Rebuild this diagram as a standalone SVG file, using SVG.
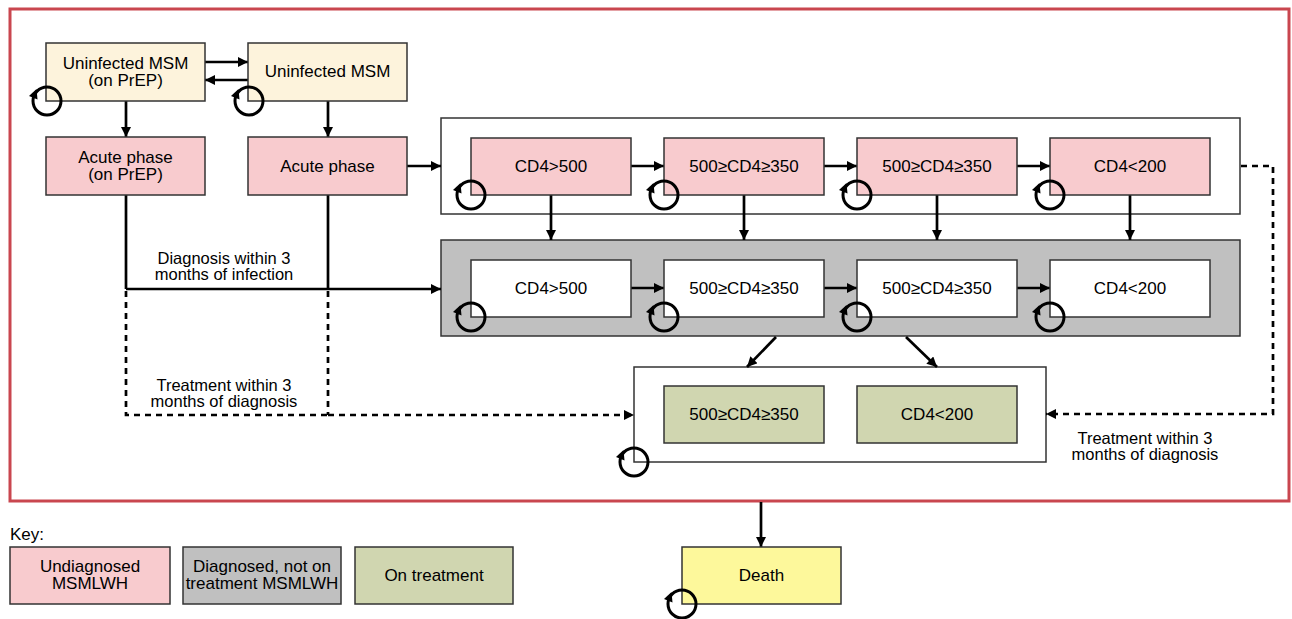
<svg xmlns="http://www.w3.org/2000/svg" width="1292" height="619" viewBox="0 0 1292 619">
  <style>
    text { font-family: "Liberation Sans", Arial, sans-serif; font-size: 17px; fill: #000; text-anchor: middle; dominant-baseline: central; }
    .lbl { font-size: 16.5px; }
    .box { stroke: #333; stroke-width: 1.5; }
    .cream { fill: #fdf3dc; }
    .pink { fill: #f8cbce; }
    .white { fill: #fff; }
    .grey { fill: #c0c0c0; }
    .green { fill: #d0d6b0; }
    .yellow { fill: #fdf89b; }
    .edge { fill: none; stroke: #000; stroke-width: 2.7; }
    .dash { stroke-dasharray: 6 5; }
    .arrow { marker-end: url(#ah); }
  </style>
  <defs>
    <marker id="ah" markerWidth="10" markerHeight="10" refX="10" refY="5" orient="auto" markerUnits="userSpaceOnUse">
      <path d="M0,0 L10,5 L0,10 z" fill="#000"/>
    </marker>
    <!-- self-transition loop, centred on a box corner -->
    <g id="loop">
      <circle r="14" fill="none" stroke="#000" stroke-width="3"/>
      <path d="M-10.5,-12 L-9.5,-1.5 L-18,-5 z" fill="#000"/>
    </g>
  </defs>

  <rect width="1292" height="619" fill="#fff"/>
  <!-- outer frame for the living population -->
  <rect x="10" y="9" width="1279" height="492" fill="none" stroke="#c9464f" stroke-width="3"/>

  <!-- containers -->
  <g id="undiagnosed-group"><rect class="box white" x="441" y="118" width="799" height="96"/></g>
  <g id="diagnosed-group"><rect class="box grey" x="441" y="240" width="799" height="96"/></g>
  <g id="treatment-group"><rect class="box white" x="634" y="367" width="412" height="95"/></g>

  <g id="connectors">
    <path class="edge arrow" d="M205,62 H248"/>
    <path class="edge arrow" d="M248,80 H205"/>
    <path class="edge arrow" d="M126,101 V137"/>
    <path class="edge arrow" d="M328,101 V137"/>
    <path class="edge arrow" d="M407,166 H441"/>
    <!-- undiagnosed progression -->
    <path class="edge arrow" d="M631,166 H664"/>
    <path class="edge arrow" d="M824,166 H857"/>
    <path class="edge arrow" d="M1017,166 H1050"/>
    <!-- diagnosis -->
    <path class="edge arrow" d="M551,195 V240"/>
    <path class="edge arrow" d="M744,195 V240"/>
    <path class="edge arrow" d="M937,195 V240"/>
    <path class="edge arrow" d="M1130,195 V240"/>
    <!-- diagnosed progression -->
    <path class="edge arrow" d="M631,288 H664"/>
    <path class="edge arrow" d="M824,288 H857"/>
    <path class="edge arrow" d="M1017,288 H1050"/>
    <!-- early diagnosis from acute phases -->
    <path class="edge" d="M126,195 V289"/>
    <path class="edge" d="M328,195 V289"/>
    <path class="edge arrow" d="M126,289 H441"/>
    <!-- early treatment -->
    <path class="edge dash" d="M126,291 V415 H328"/>
    <path class="edge dash" d="M328,291 V415"/>
    <path class="edge dash arrow" d="M328,415 H634"/>
    <path class="edge dash arrow" d="M1241,166 H1273 V414 H1046"/>
    <!-- treatment initiation -->
    <path class="edge arrow" d="M776,337 L747,367"/>
    <path class="edge arrow" d="M906,337 L937,367"/>
    <!-- mortality -->
    <path class="edge arrow" d="M761,502 V547"/>
  </g>

  <g id="uninfected-prep">
    <rect class="box cream" x="46" y="43" width="159" height="58"/>
    <text x="125.5" y="63">Uninfected MSM</text>
    <text x="125.5" y="80">(on PrEP)</text>
    <use href="#loop" x="47" y="101"/>
  </g>
  <g id="uninfected">
    <rect class="box cream" x="248" y="43" width="159" height="58"/>
    <text x="327.5" y="71">Uninfected MSM</text>
    <use href="#loop" x="249" y="101"/>
  </g>
  <g id="acute-prep">
    <rect class="box pink" x="46" y="137" width="159" height="58"/>
    <text x="125.5" y="157">Acute phase</text>
    <text x="125.5" y="174">(on PrEP)</text>
  </g>
  <g id="acute">
    <rect class="box pink" x="248" y="137" width="159" height="58"/>
    <text x="327.5" y="166">Acute phase</text>
  </g>

  <g id="undiag-cd4-500">
    <rect class="box pink" x="471" y="138" width="160" height="57"/>
    <text x="551" y="166">CD4&gt;500</text>
    <use href="#loop" x="471" y="195"/>
  </g>
  <g id="undiag-cd4-350-500">
    <rect class="box pink" x="664" y="138" width="160" height="57"/>
    <text x="744" y="166">500≥CD4≥350</text>
    <use href="#loop" x="664" y="195"/>
  </g>
  <g id="undiag-cd4-200-350">
    <rect class="box pink" x="857" y="138" width="160" height="57"/>
    <text x="937" y="166">500≥CD4≥350</text>
    <use href="#loop" x="857" y="195"/>
  </g>
  <g id="undiag-cd4-200">
    <rect class="box pink" x="1050" y="138" width="160" height="57"/>
    <text x="1130" y="166">CD4&lt;200</text>
    <use href="#loop" x="1050" y="195"/>
  </g>

  <g id="diag-cd4-500">
    <rect class="box white" x="471" y="260" width="160" height="57"/>
    <text x="551" y="288">CD4&gt;500</text>
    <use href="#loop" x="471" y="317"/>
  </g>
  <g id="diag-cd4-350-500">
    <rect class="box white" x="664" y="260" width="160" height="57"/>
    <text x="744" y="288">500≥CD4≥350</text>
    <use href="#loop" x="664" y="317"/>
  </g>
  <g id="diag-cd4-200-350">
    <rect class="box white" x="857" y="260" width="160" height="57"/>
    <text x="937" y="288">500≥CD4≥350</text>
    <use href="#loop" x="857" y="317"/>
  </g>
  <g id="diag-cd4-200">
    <rect class="box white" x="1050" y="260" width="160" height="57"/>
    <text x="1130" y="288">CD4&lt;200</text>
    <use href="#loop" x="1050" y="317"/>
  </g>

  <g id="treat-cd4-350-500">
    <rect class="box green" x="664" y="386" width="160" height="57"/>
    <text x="744" y="414">500≥CD4≥350</text>
  </g>
  <g id="treat-cd4-200">
    <rect class="box green" x="857" y="386" width="160" height="57"/>
    <text x="937" y="414">CD4&lt;200</text>
  </g>
  <use href="#loop" x="634" y="462"/>

  <g id="labels">
    <text class="lbl" x="224" y="258">Diagnosis within 3</text>
    <text class="lbl" x="224" y="274">months of infection</text>
    <text class="lbl" x="224" y="385">Treatment within 3</text>
    <text class="lbl" x="224" y="401">months of diagnosis</text>
    <text class="lbl" x="1145" y="438">Treatment within 3</text>
    <text class="lbl" x="1145" y="454">months of diagnosis</text>
  </g>

  <g id="death">
    <rect class="box yellow" x="682" y="547" width="159" height="57"/>
    <text x="761.5" y="575.5">Death</text>
    <use href="#loop" x="682" y="604"/>
  </g>

  <g id="key">
    <text x="10" y="534" style="text-anchor:start">Key:</text>
    <rect class="box pink" x="10" y="547" width="160" height="57"/>
    <text x="90" y="566">Undiagnosed</text>
    <text x="90" y="583">MSMLWH</text>
    <rect class="box grey" x="183" y="547" width="158" height="57"/>
    <text x="262" y="566">Diagnosed, not on</text>
    <text x="262" y="583">treatment MSMLWH</text>
    <rect class="box green" x="355" y="547" width="158" height="57"/>
    <text x="434" y="575.5">On treatment</text>
  </g>
</svg>
